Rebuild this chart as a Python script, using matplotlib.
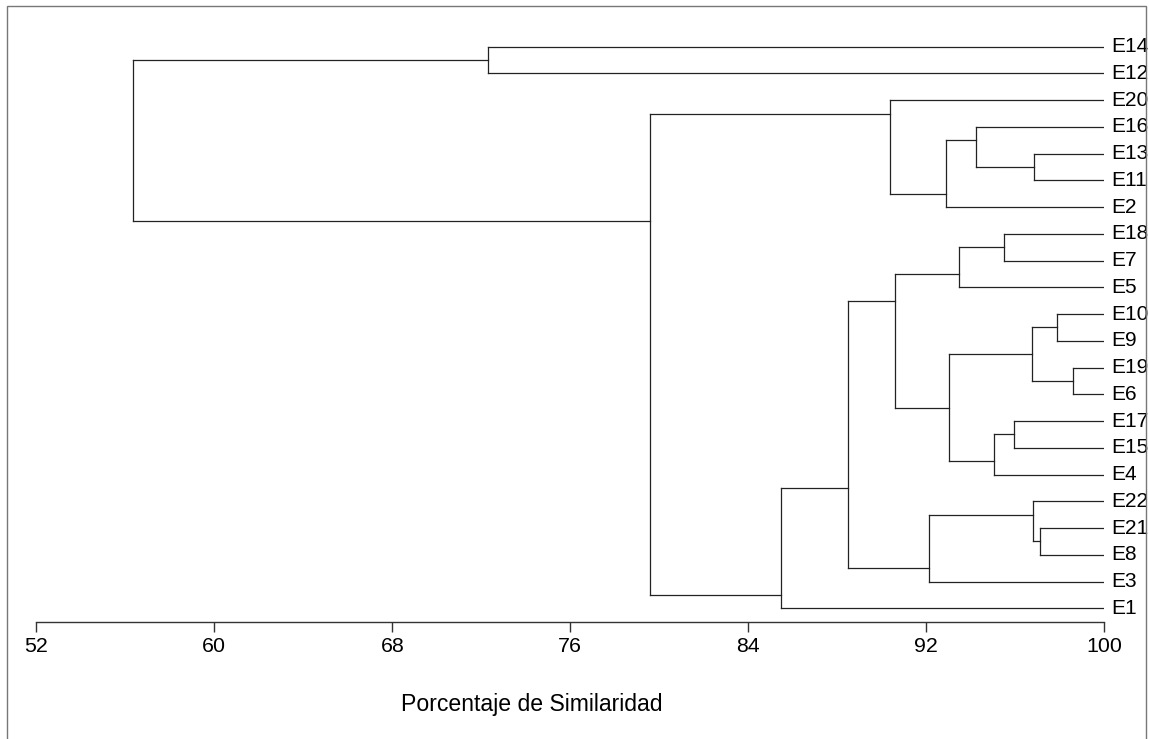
import matplotlib
matplotlib.use('Agg')
import matplotlib.pyplot as plt
from matplotlib.patches import Rectangle

plt.rcParams['font.family'] = ['Liberation Sans', 'DejaVu Sans']

# hojas en el orden del dendrograma (arriba -> abajo)
leaf_order = ['E14', 'E12', 'E20', 'E16', 'E13', 'E11', 'E2', 'E18', 'E7', 'E5',
              'E10', 'E9', 'E19', 'E6', 'E17', 'E15', 'E4', 'E22', 'E21', 'E8',
              'E3', 'E1']

# uniones: C1, C2, ... (rama superior, rama inferior, % similaridad)
merge_a = ['E13', 'E16', 'C2', 'E20', 'E18', 'C5', 'E10', 'E19', 'C7', 'E17', 'C10',
           'C9', 'C6', 'E21', 'E22', 'C15', 'C13', 'C17', 'C4', 'E14', 'C20']
merge_b = ['E11', 'C1', 'E2', 'C3', 'E7', 'E5', 'E9', 'E6', 'C8', 'E15', 'E4',
           'C11', 'C12', 'E8', 'C14', 'E3', 'C16', 'E1', 'C18', 'E12', 'C19']
merge_sim = [96.85, 94.22, 92.90, 90.36, 95.49, 93.47, 97.86, 98.59, 96.74, 95.93, 95.06,
             93.03, 90.61, 97.12, 96.78, 92.13, 88.47, 85.47, 79.58, 72.30, 56.36]

ticks = [52, 60, 68, 76, 84, 92, 100]

W, H = 1149, 739
fig = plt.figure(figsize=(W / 100, H / 100), dpi=100)

# marco exterior
fig.patches.append(Rectangle((7 / W, -0.05), (1146 - 7) / W, 1.05 - 6 / H,
                             transform=fig.transFigure, fill=False,
                             edgecolor='#777777', lw=1.0))

x0, x1 = 36.3, 1104.3
ytop_px, yaxis_px = 30, 621.7
ax = fig.add_axes([x0 / W, 1 - yaxis_px / H, (x1 - x0) / W, (yaxis_px - ytop_px) / H])

step = 26.74
first_leaf_px = 46.7
ax.set_xlim(52, 100)
ax.set_ylim((yaxis_px - first_leaf_px) / step, (ytop_px - first_leaf_px) / step)

pos = {name: i for i, name in enumerate(leaf_order)}
members = {name: [i] for i, name in enumerate(leaf_order)}
node_y = {name: float(i) for i, name in enumerate(leaf_order)}
node_x = {name: 100.0 for name in leaf_order}

lc = '#222222'
for k, (a, b, s) in enumerate(zip(merge_a, merge_b, merge_sim)):
    name = 'C%d' % (k + 1)
    members[name] = members[a] + members[b]
    y = max(members[a]) + 0.5
    ax.plot([s, s], [node_y[a], node_y[b]], color=lc, lw=0.9)
    ax.plot([s, node_x[a]], [node_y[a], node_y[a]], color=lc, lw=0.9)
    ax.plot([s, node_x[b]], [node_y[b], node_y[b]], color=lc, lw=0.9)
    node_y[name] = y
    node_x[name] = s

for name in leaf_order:
    ax.annotate(name, xy=(100, pos[name]), xytext=(5, 0), textcoords='offset points',
                va='center', ha='left', fontsize=15, color='black',
                annotation_clip=False)

for sp in ['top', 'right', 'left']:
    ax.spines[sp].set_visible(False)
ax.spines['bottom'].set_color('#333333')
ax.spines['bottom'].set_linewidth(1.0)
ax.set_yticks([])
ax.set_xticks(ticks)
ax.set_xticklabels([str(t) for t in ticks])
ax.tick_params(axis='x', direction='out', length=7.2, width=1.0, color='#333333',
               labelsize=15.4, pad=4)
ax.patch.set_alpha(0)

fig.text(531.7 / W, 1 - 705 / H, 'Porcentaje de Similaridad', ha='center', va='center',
         fontsize=16.6)

fig.savefig('out.png', dpi=100)
